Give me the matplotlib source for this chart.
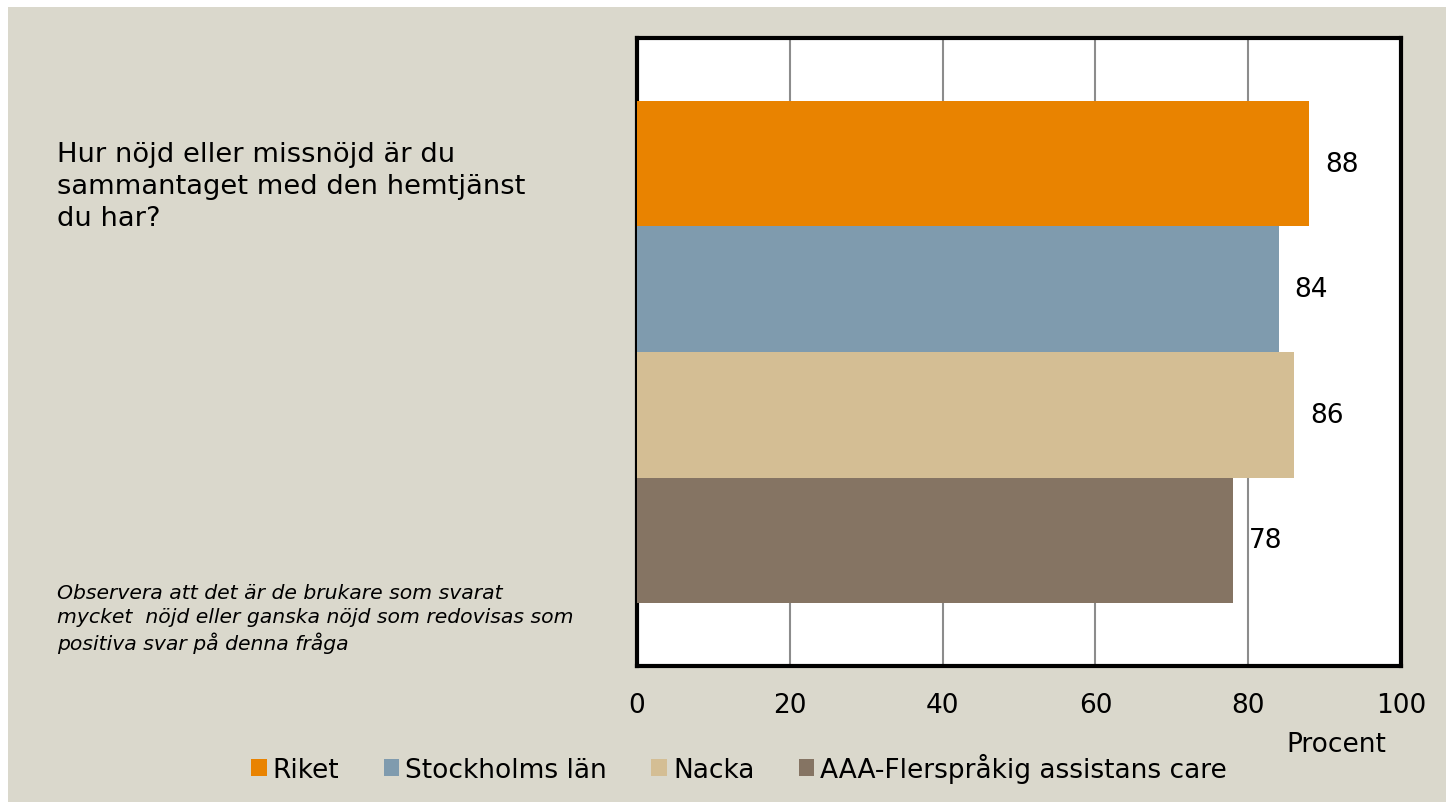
import matplotlib
matplotlib.use("Agg")
import matplotlib.pyplot as plt
from matplotlib.patches import Rectangle, Patch

series = ["Riket", "Stockholms län", "Nacka", "AAA-Flerspråkig assistans care"]
values = [88, 84, 86, 78]
colors = ["#E98300", "#7F9BAE", "#D4BE94", "#857463"]
xticks = [0, 20, 40, 60, 80, 100]
question = "Hur nöjd eller missnöjd är du\nsammantaget med den hemtjänst\ndu har?"
note = ("Observera att det är de brukare som svarat\n"
        "mycket  nöjd eller ganska nöjd som redovisas som\n"
        "positiva svar på denna fråga")
xlabel = "Procent"

plt.rcParams['font.family'] = ['DejaVu Sans']
bg = "#DAD8CC"

fig = plt.figure(figsize=(14.46, 8.03), dpi=100, facecolor="white")
fig.patches.append(Rectangle((8/1446, 0), 1, (803-8)/803, transform=fig.transFigure,
                             facecolor=bg, edgecolor="none", zorder=-10))

ax = fig.add_axes([637/1446, (803-667)/803, (1401-637)/1446, (667-39)/803])
ax.set_facecolor("white")
pos = list(range(len(series)))
ax.barh(pos, values, height=1.0, color=colors, zorder=3)
ax.set_ylim(4.0, -1.0)
ax.set_xlim(0, 100)
ax.set_xticks(xticks)
ax.set_xticklabels([str(t) for t in xticks], fontsize=19)
ax.set_yticks([])
ax.tick_params(axis='x', length=0, pad=19)
ax.grid(axis='x', color="#8c8c8c", linewidth=1.5, zorder=0)
for s in ax.spines.values():
    s.set_linewidth(3)
    s.set_color("black")
for p, v in zip(pos, values):
    ax.annotate(str(v), (v, p), xytext=(11.5, 0), textcoords="offset points",
                ha="left", va="center", fontsize=19)
ax.set_xlabel(xlabel, fontsize=19)
ax.xaxis.set_label_coords(0.915, -0.104)

fig.text(57/1446, 1 - 187/803, question, fontsize=19.7, ha="left", va="center",
         linespacing=1.3)
fig.text(57/1446, 1 - 619/803, note, fontsize=14.7, ha="left", va="center",
         style="italic", linespacing=1.33)

handles = [Patch(facecolor=c, edgecolor="none") for c in colors]
fig.legend(handles, series, loc="center", bbox_to_anchor=(739/1446, 1 - 769/803),
           ncol=4, frameon=False, fontsize=19, handlelength=0.6, handleheight=0.6,
           handletextpad=0.22, columnspacing=1.68, borderaxespad=0)

fig.savefig("out.png", dpi=100, facecolor=fig.get_facecolor())
